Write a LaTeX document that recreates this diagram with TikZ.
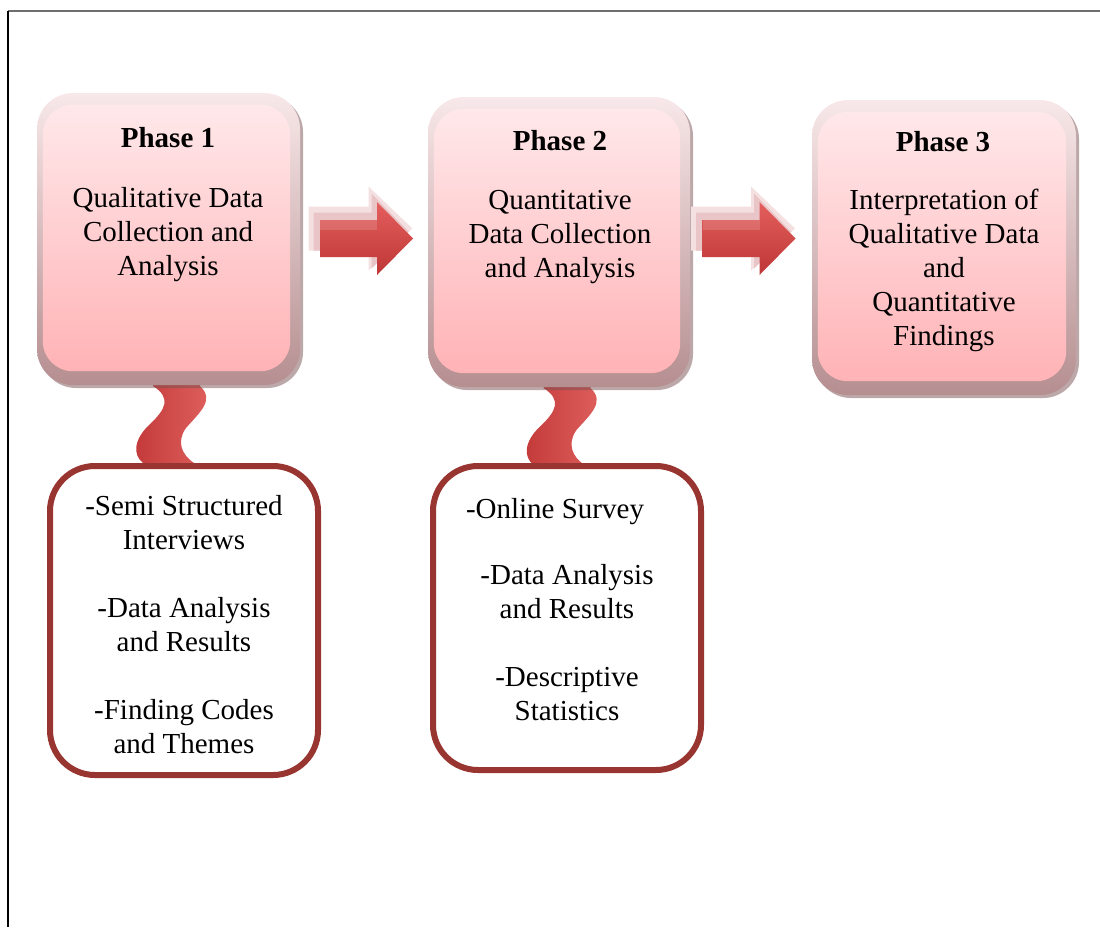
\documentclass[tikz,border=0pt]{standalone}
\usepackage{fontspec}
\setmainfont{Liberation Serif}
\usetikzlibrary{calc,shadows}
\definecolor{rimtop}{HTML}{F8E8E9}
\definecolor{rimbot}{HTML}{B58E90}
\definecolor{facetop}{HTML}{FFE8EA}
\definecolor{facebot}{HTML}{FFB3B6}
\definecolor{shadowc}{HTML}{7A5254}
\definecolor{arrowtop}{HTML}{E35E5C}
\definecolor{arrowbot}{HTML}{BE3736}
\definecolor{glowc}{HTML}{E2B2B4}
\definecolor{wavel}{HTML}{C23A39}
\definecolor{waver}{HTML}{E0625F}
\definecolor{listc}{HTML}{983530}
\definecolor{framec}{HTML}{6E6E6E}
\begin{document}
\begin{tikzpicture}[x=1pt,y=-1pt,
  phasebox/.style={rectangle, rounded corners=36pt, inner sep=0pt,
    top color=rimtop, bottom color=rimbot,
    drop shadow={shadow xshift=3pt, shadow yshift=-3pt, fill=shadowc, opacity=0.5}},
  face/.style={rounded corners=30pt, top color=facetop, bottom color=facebot},
  listbox/.style={rectangle, rounded corners=45pt, draw=listc, line width=6pt,
    fill=white, inner sep=0pt, minimum width=268pt},
  txt/.style={align=center, inner sep=0pt, font=\fontsize{29}{34}\selectfont},
  arrowbody/.style={top color=arrowtop, bottom color=arrowbot},
  wavebody/.style={left color=wavel, right color=waver},
  blockarr/.pic={
    \fill[glowc!40] (-58,-32) -- (2,-32) -- (2,-52) -- (46,-10) -- (2,32) -- (2,12) -- (-58,12) -- cycle;
    \fill[glowc!75] (-53,-26) -- (5,-26) -- (5,-45) -- (42,-7) -- (5,30) -- (5,12) -- (-53,12) -- cycle;
    \path[arrowbody] (-46.5,-18.5) -- (10.5,-18.5) -- (10.5,-36.5) -- (46.5,0) -- (10.5,36.5) -- (10.5,18.5) -- (-46.5,18.5) -- cycle;
    \fill[white,opacity=0.15] (-46.5,-18.5) -- (10.5,-18.5) -- (10.5,-9) -- (-46.5,-9) -- cycle;
  },
  wave/.pic={
    \path[wavebody] (-15.5,-10) -- (-15.5,1) .. controls (3.5,13) and (-3.5,25) .. (-18.5,39)
      .. controls (-35.5,55) and (-35.5,70) .. (-25.5,78) -- (-25.5,82) -- (25.5,82) -- (25.5,78)
      .. controls (13.5,70) and (7.5,57) .. (17.5,43)
      .. controls (31.5,27) and (46.5,15) .. (31.5,1) -- (31.5,-10) -- cycle;
  }
]
\useasboundingbox (0,0) rectangle (1100,927);
% frame
\draw[framec, line width=1.3pt] (8,11) -- (1100,11);
\draw[black, line width=1.3pt] (8,11) -- (8,927);

% anchor points for the wavy connectors (bottom centres of phase boxes 1 and 2)
\coordinate (w1) at (168.5,385);
\coordinate (w2) at (559,387);
\pic at (w1) {wave};
\pic at (w2) {wave};

% phase boxes (rims)
\node[phasebox, minimum width=263pt, minimum height=292pt] (p1) at (168.5,239) {};
\node[phasebox, minimum width=262pt, minimum height=290pt] (p2) at (559,242) {};
\node[phasebox, minimum width=264pt, minimum height=295pt] (p3) at (944,247.5) {};

% faces
\foreach \p in {p1,p2,p3}{
  \path[face] ($(\p.north west)+(6,12)$) rectangle ($(\p.south east)+(-10,-14)$);
}

% block arrows
\coordinate (a1) at (366.5,238.5);
\coordinate (a2) at (749,238.5);
\pic at (a1) {blockarr};
\pic at (a2) {blockarr};

% phase texts (anchor = baseline of last line)
\node[txt, anchor=base] (t1) at (168,147) {\textbf{Phase 1}};
\node[txt, anchor=base] (d1) at (168,275) {Qualitative Data\\Collection and\\Analysis};
\node[txt, anchor=base] (t2) at (560,150) {\textbf{Phase 2}};
\node[txt, anchor=base] (d2) at (560,277) {Quantitative\\Data Collection\\and Analysis};
\node[txt, anchor=base] (t3) at (943,151) {\textbf{Phase 3}};
\node[txt, anchor=base] (d3) at (944,345) {Interpretation of\\Qualitative Data\\and\\Quantitative\\Findings};

% list boxes
\node[listbox, minimum height=309pt] (b1) at (184,620.5) {};
\node[listbox, minimum height=304pt] (b2) at (567,618) {};
\node[txt, anchor=base] (l1) at (184,753) {-Semi Structured\\Interviews\\[34pt]-Data Analysis\\and Results\\[34pt]-Finding Codes\\and Themes};
\node[txt, anchor=base] (l2a) at (555,518) {-Online Survey};
\node[txt, anchor=base] (l2) at (567,720) {-Data Analysis\\and Results\\[34pt]-Descriptive\\Statistics};
\end{tikzpicture}
\end{document}
